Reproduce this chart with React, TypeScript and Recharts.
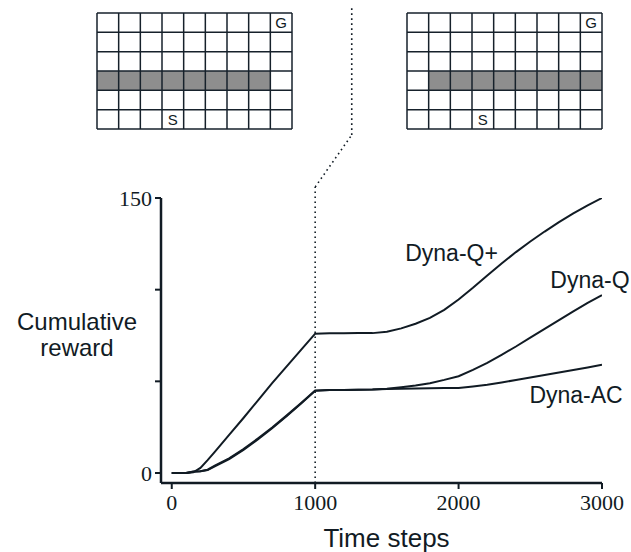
import React from 'react';
import {
  LineChart,
  Line,
  XAxis,
  YAxis,
  ReferenceLine,
  ReferenceDot,
  ReferenceArea,
  ScatterChart,
  Scatter,
  Label,
} from 'recharts';

// time steps sampled along the runs
const steps = [
  0, 100, 150, 200, 250, 300, 400, 500, 600, 700, 800, 900, 1000, 1100, 1200, 1300, 1400, 1500,
  1600, 1700, 1800, 1900, 2000, 2100, 2200, 2300, 2400, 2500, 2600, 2700, 2800, 2900, 3000,
];

// cumulative reward per method
const dynaQPlus = [
  0, 0, 0.4, 2.8, 7, 11.5, 20.8, 30, 39.5, 49, 58, 67, 76, 76.2, 76.2, 76.3, 76.3, 77, 78.9, 81.4,
  84.6, 89, 94.6, 101, 107.7, 114.3, 120.5, 126.3, 131.7, 136.8, 141.6, 146, 150,
];
const dynaQ = [
  0, 0, 0.8, 1, 1.8, 4, 8, 13, 18.8, 24.8, 31.3, 38, 45, 45.3, 45.3, 45.4, 45.5, 46, 46.8, 47.7,
  49, 50.8, 52.8, 56.3, 60.1, 64.5, 69, 73.8, 78.6, 83.4, 88.2, 92.8, 97,
];
const dynaAC = [
  0, 0, 0.7, 1, 1.6, 3.6, 7.6, 12.6, 18.3, 24.4, 31, 37.8, 44.8, 45.3, 45.3, 45.4, 45.5, 45.8,
  46, 46.1, 46.2, 46.3, 46.4, 47.2, 48.1, 49.4, 50.7, 52.1, 53.4, 54.8, 56.2, 57.6, 59,
];

const xTicks = [0, 1000, 2000, 3000];
const yTicks = [0, 50, 100, 150];
const yLabeledTicks = [0, 150];

const curveLabels = [
  { name: 'Dyna-Q+', step: 1951, value: 120 },
  { name: 'Dyna-Q', step: 2916, value: 105.3 },
  { name: 'Dyna-AC', step: 2819, value: 42.5 },
];

// dotted connector from the change point up to the gap between the mazes
const connector = [
  { x: 1000, y: -5.45 },
  { x: 1000, y: 156 },
  { x: 1255, y: 184.4 },
  { x: 1255, y: 254 },
];

// maze layout
const mazeCols = [0, 1, 2, 3, 4, 5, 6, 7, 8, 9];
const mazeRows = [0, 1, 2, 3, 4, 5, 6];
const wallRow = 3;
const wallBefore = { from: 0, to: 8 };
const wallAfter = { from: 1, to: 9 };
const mazeMarks = [
  { x: 8.5, y: 0.5, mark: 'G' },
  { x: 3.5, y: 5.5, mark: 'S' },
];

const data = steps.map((s, i) => ({
  step: s,
  dynaQPlus: dynaQPlus[i],
  dynaQ: dynaQ[i],
  dynaAC: dynaAC[i],
}));

const ink = '#111b24';
const sans = '"Liberation Sans", Arial, sans-serif';
const serif = '"Liberation Serif", "Times New Roman", serif';

const YTitle = (props: any) => {
  const vb = props.viewBox || { x: 0, y: 198, width: 161, height: 285 };
  const cx = vb.x + 77;
  const cy = vb.y + vb.height / 2;
  return (
    <text textAnchor="middle" fill={ink} fontFamily={sans} fontSize={24}>
      <tspan x={cx} y={cy - 10.5}>Cumulative</tspan>
      <tspan x={cx} y={cy + 15}>reward</tspan>
    </text>
  );
};

const XTitle = (props: any) => {
  const vb = props.viewBox || { x: 161, y: 483, width: 441, height: 40 };
  return (
    <text
      x={vb.x + vb.width / 2 + 5}
      y={vb.y + vb.height + 24}
      textAnchor="middle"
      fill={ink}
      fontFamily={sans}
      fontSize={26}
    >
      Time steps
    </text>
  );
};

const MarkShape = (p: any) => (
  <text
    x={p.cx}
    y={p.cy}
    dy={5.5}
    textAnchor="middle"
    fill={ink}
    fontFamily={sans}
    fontSize={15}
  >
    {p.payload.mark}
  </text>
);

const Maze = ({ wall, left }: { wall: { from: number; to: number }; left: number }) => (
  <div style={{ position: 'absolute', left, top: 11.3 }}>
    <ScatterChart width={199} height={120} margin={{ top: 2, right: 2, bottom: 2, left: 2 }}>
      <XAxis type="number" dataKey="x" domain={[0, 9]} hide allowDataOverflow />
      <YAxis type="number" dataKey="y" domain={[0, 6]} hide reversed allowDataOverflow />
      <ReferenceArea
        x1={wall.from}
        x2={wall.to}
        y1={wallRow}
        y2={wallRow + 1}
        fill="#8e8e8e"
        fillOpacity={1}
        stroke="none"
      />
      {mazeCols.map((c) => (
        <ReferenceLine key={'c' + c} x={c} stroke="#16212b" strokeWidth={1.5} />
      ))}
      {mazeRows.map((r) => (
        <ReferenceLine key={'r' + r} y={r} stroke="#16212b" strokeWidth={1.5} />
      ))}
      <Scatter data={mazeMarks} shape={MarkShape} isAnimationActive={false} />
    </ScatterChart>
  </div>
);

export default function App() {
  return (
    <div
      style={{
        position: 'absolute',
        left: 0,
        top: 0,
        width: 631,
        height: 552,
        background: '#fff',
      }}
    >
      <div style={{ position: 'absolute', left: 0, top: 0 }}>
        <LineChart
          width={631}
          height={552}
          data={data}
          margin={{ top: 198, right: 29, bottom: 29, left: 0 }}
        >
          <XAxis
            dataKey="step"
            type="number"
            domain={[-75, 3000]}
            ticks={xTicks}
            allowDataOverflow
            height={40}
            stroke={ink}
            strokeWidth={2.5}
            tickSize={6}
            tickMargin={5}
            tickLine={{ stroke: ink, strokeWidth: 2 }}
            tick={{ fill: ink, fontFamily: serif, fontSize: 22 }}
          >
            <Label content={XTitle} />
          </XAxis>
          <YAxis
            type="number"
            domain={[-5.45, 150]}
            ticks={yTicks}
            allowDataOverflow
            width={161}
            stroke={ink}
            strokeWidth={2.5}
            tickSize={6}
            tickMargin={3}
            tickLine={{ stroke: ink, strokeWidth: 2 }}
            tick={{ fill: ink, fontFamily: serif, fontSize: 22 }}
            tickFormatter={(v: number) => (yLabeledTicks.includes(v) ? String(v) : '')}
          >
            <Label content={YTitle} />
          </YAxis>
          {connector.slice(1).map((p, i) => (
            <ReferenceLine
              key={i}
              segment={[connector[i], p]}
              ifOverflow="visible"
              stroke={ink}
              strokeWidth={1.6}
              strokeDasharray="1.6 3.4"
            />
          ))}
          <Line type="linear" dataKey="dynaAC" stroke={ink} strokeWidth={2} dot={false} isAnimationActive={false} />
          <Line type="linear" dataKey="dynaQ" stroke={ink} strokeWidth={2} dot={false} isAnimationActive={false} />
          <Line type="linear" dataKey="dynaQPlus" stroke={ink} strokeWidth={2} dot={false} isAnimationActive={false} />
          {curveLabels.map((c) => (
            <ReferenceDot
              key={c.name}
              x={c.step}
              y={c.value}
              r={0}
              fill="none"
              stroke="none"
              label={{ value: c.name, position: 'center', fill: ink, fontFamily: sans, fontSize: 23 }}
            />
          ))}
        </LineChart>
      </div>
      <Maze wall={wallBefore} left={95.3} />
      <Maze wall={wallAfter} left={405.3} />
    </div>
  );
}
